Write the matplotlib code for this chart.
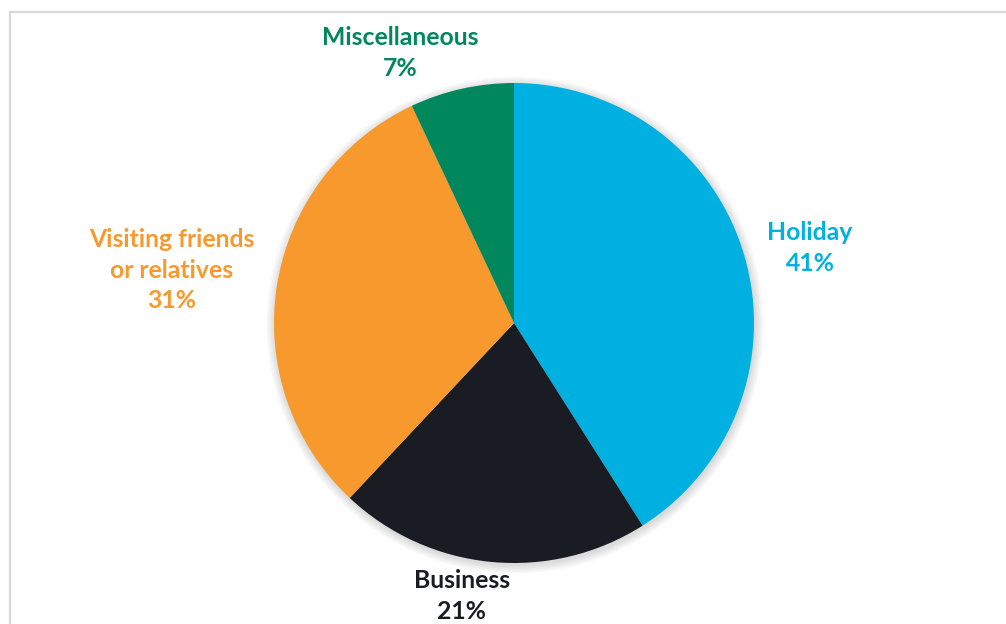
import matplotlib.pyplot as plt
from matplotlib.lines import Line2D

# purpose of visit shares
labels = ["Holiday", "Business", "Visiting friends\nor relatives", "Miscellaneous"]
shares = [41, 21, 31, 7]
colors = ["#00B0E0", "#1A1C23", "#F7992C", "#00875B"]
text_colors = ["#00B0E0", "#1A1C23", "#F7992C", "#00875B"]

W, H = 1006, 624
fig = plt.figure(figsize=(W / 100, H / 100), dpi=100)
ax = fig.add_axes([0, 0, 1, 1])
ax.set_xlim(0, W)
ax.set_ylim(0, H)
ax.set_aspect("equal")
ax.axis("off")

cx, cy, r = 514, H - 323, 240

# faint drop shadow under the pie
for i in range(6):
    sh = plt.Circle((cx + 1, cy - 2), r + 1 + i * 1.5, color="#000000",
                    alpha=0.025, lw=0, zorder=1)
    ax.add_patch(sh)

ax.pie(shares, colors=colors, startangle=90, counterclock=False,
       center=(cx, cy), radius=r, frame=True,
       wedgeprops=dict(linewidth=0, zorder=2))
ax.set_xlim(0, W)
ax.set_ylim(0, H)
ax.axis("off")

# label anchors (pixel positions of text centres)
label_pos = [(810, H - 248), (462, H - 596), (172, H - 270), (400, H - 53)]
for lab, val, col, (x, y) in zip(labels, shares, text_colors, label_pos):
    ax.text(x, y, f"{lab}\n{val}%", ha="center", va="center", color=col,
            fontsize=17.8, fontweight="bold", family="Lato", linespacing=1.4,
            zorder=5)

# light frame along the top and left
fig.add_artist(Line2D([10 / W, 10 / W], [0, 1 - 12 / H], transform=fig.transFigure,
                      color="#D9D9D9", lw=1.6))
fig.add_artist(Line2D([10 / W, 1], [1 - 12 / H, 1 - 12 / H], transform=fig.transFigure,
                      color="#D9D9D9", lw=1.6))

fig.savefig("out.png", dpi=100, facecolor="white")
